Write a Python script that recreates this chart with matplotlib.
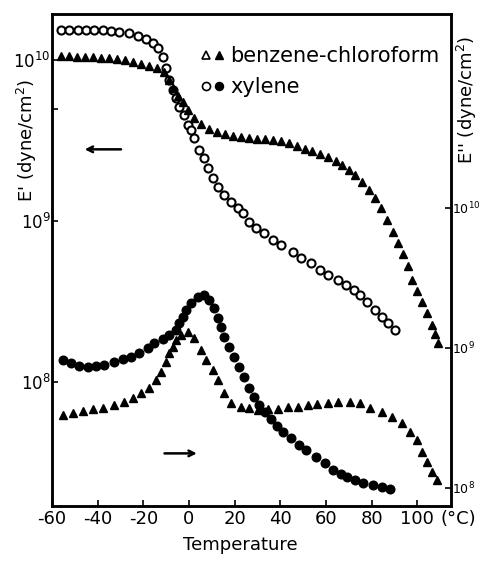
import numpy as np
import matplotlib
matplotlib.use("Agg")
import matplotlib.pyplot as plt
from matplotlib.ticker import FixedLocator, NullLocator
from matplotlib.legend_handler import HandlerTuple

plt.rcParams['font.family'] = ['DejaVu Sans']
plt.rcParams['axes.unicode_minus'] = False

# E' (storage modulus), left axis -- log10 values
xyl_T1 = [-55.9, -52.4, -48.5, -45.0, -41.5, -37.6, -34.1, -30.6, -26.2, -22.3,
          -18.8, -15.7, -13.5, -11.4, -10.0, -8.7, -7.0, -5.7, -4.4, -2.2,
          -0.4, 0.9, 2.2, 4.4, 6.6, 8.3, 10.5, 12.7, 15.3, 18.3,
          21.4, 23.6, 26.2, 29.3, 32.8, 36.7, 40.2, 45.4, 48.9, 53.3,
          57.6, 61.1, 65.1, 68.6, 72.1, 75.1, 78.2, 81.7, 84.7, 87.3, 90.4]
xyl_logE1 = [10.186, 10.186, 10.186, 10.186, 10.186, 10.186, 10.180, 10.174, 10.168, 10.149,
             10.130, 10.106, 10.075, 10.019, 9.950, 9.876, 9.814, 9.764, 9.708, 9.658,
             9.596, 9.565, 9.516, 9.441, 9.391, 9.329, 9.267, 9.211, 9.161, 9.118,
             9.081, 9.050, 8.994, 8.957, 8.925, 8.882, 8.851, 8.807, 8.770, 8.739,
             8.696, 8.665, 8.634, 8.602, 8.571, 8.540, 8.497, 8.447, 8.404, 8.366, 8.323]

bc_T1 = [-55.9, -52.4, -48.9, -45.4, -41.9, -38.4, -34.9, -31.4, -27.9, -24.5,
         -21.0, -17.5, -14.0, -10.9, -8.7, -7.0, -4.8, -2.6, -0.4, 2.2,
         5.2, 8.7, 12.2, 15.7, 19.2, 22.7, 26.2, 29.7, 33.2, 36.7,
         40.2, 43.7, 47.2, 50.7, 54.1, 57.6, 61.1, 64.2, 67.2, 69.9,
         72.9, 76.0, 79.0, 81.7, 84.3, 86.9, 89.5, 91.7, 93.9, 96.1,
         97.8, 100.0, 102.2, 104.4, 106.6, 107.9, 109.2]
bc_logE1 = [10.025, 10.025, 10.019, 10.019, 10.019, 10.012, 10.012, 10.006, 10.000, 9.988,
            9.975, 9.963, 9.950, 9.925, 9.876, 9.826, 9.776, 9.739, 9.689, 9.640,
            9.602, 9.571, 9.553, 9.540, 9.528, 9.522, 9.516, 9.509, 9.509, 9.503,
            9.497, 9.484, 9.466, 9.447, 9.435, 9.416, 9.398, 9.373, 9.348, 9.317,
            9.286, 9.242, 9.193, 9.143, 9.081, 9.006, 8.932, 8.863, 8.795, 8.720,
            8.634, 8.565, 8.497, 8.429, 8.354, 8.298, 8.242]

# E'' (loss modulus), right axis
xyl_T2 = [-55.0, -51.5, -48.0, -44.1, -40.6, -37.1, -32.8, -28.8, -25.3, -21.8,
          -17.9, -15.3, -11.4, -8.7, -5.7, -4.4, -2.6, -1.3, 0.9, 3.9,
          6.6, 8.7, 10.9, 12.7, 14.0, 15.3, 17.5, 19.7, 21.8, 24.0,
          26.2, 28.4, 30.6, 33.2, 35.8, 38.4, 41.0, 44.5, 48.0, 51.1,
          55.5, 59.8, 63.3, 66.4, 69.4, 72.9, 76.4, 80.8, 84.7, 88.2]
xyl_logE2 = [8.912, 8.891, 8.869, 8.862, 8.869, 8.876, 8.898, 8.919, 8.934, 8.962,
             8.998, 9.034, 9.062, 9.091, 9.126, 9.176, 9.219, 9.269, 9.319, 9.362,
             9.376, 9.341, 9.284, 9.212, 9.148, 9.076, 9.005, 8.934, 8.862, 8.791,
             8.712, 8.648, 8.591, 8.541, 8.491, 8.441, 8.398, 8.355, 8.305, 8.269,
             8.219, 8.176, 8.126, 8.098, 8.076, 8.055, 8.034, 8.019, 8.005, 7.991]

bc_T2 = [-55.0, -50.7, -46.3, -41.9, -37.6, -32.8, -28.4, -24.5, -21.0, -17.5,
         -14.4, -12.2, -10.0, -8.7, -7.0, -5.7, -3.5, -0.4, 2.2, 5.2,
         7.4, 10.5, 12.7, 15.3, 18.3, 22.7, 26.2, 30.1, 34.5, 38.9,
         43.2, 47.6, 52.0, 56.3, 60.7, 65.5, 70.7, 75.1, 79.5, 84.7,
         89.1, 93.4, 96.9, 100.0, 102.2, 104.4, 106.6, 108.7]
bc_logE2 = [8.519, 8.534, 8.548, 8.562, 8.569, 8.591, 8.612, 8.641, 8.676, 8.712,
            8.769, 8.826, 8.898, 8.962, 9.005, 9.055, 9.091, 9.112, 9.069, 8.984,
            8.912, 8.841, 8.769, 8.676, 8.605, 8.576, 8.569, 8.555, 8.562, 8.562,
            8.576, 8.576, 8.591, 8.598, 8.605, 8.612, 8.612, 8.605, 8.569, 8.541,
            8.505, 8.462, 8.398, 8.341, 8.255, 8.184, 8.112, 8.055]

x_ticks = [-60, -40, -20, 0, 20, 40, 60, 80, 100]

fig = plt.figure(figsize=(4.8, 5.62), dpi=100)
ax = fig.add_axes([0.1083, 0.0996, 0.8313, 0.8754])
ax2 = ax.twinx()

ms = 5.8
ax.plot(xyl_T1, 10 ** np.array(xyl_logE1), 'o', ms=ms, mfc='white', mec='black', mew=1.5)
ax.plot(bc_T1, 10 ** np.array(bc_logE1), '^', ms=ms + 0.4, color='black')
ax2.plot(xyl_T2, 10 ** np.array(xyl_logE2), 'o', ms=ms + 0.4, color='black')
ax2.plot(bc_T2, 10 ** np.array(bc_logE2), '^', ms=ms + 0.4, color='black')

ax.set_xlim(-59.4, 114.8)
ax.set_yscale('log')
ax2.set_yscale('log')
ax.set_ylim(10 ** 7.230, 10 ** 10.286)
ax2.set_ylim(10 ** 7.869, 10 ** 11.384)

ax.set_xticks(x_ticks)
ax.set_xticklabels([str(t) for t in x_ticks])
ax.set_yticks([1e8, 1e9, 1e10])
ax.yaxis.set_minor_locator(FixedLocator([5e9]))
ax2.set_yticks([1e8, 1e9, 1e10])
ax2.yaxis.set_minor_locator(NullLocator())

ax.tick_params(axis='x', direction='in', length=4, width=1.2, labelsize=13, pad=3)
ax.tick_params(axis='y', which='both', direction='in', length=4, width=1.2, labelsize=12, pad=1)
ax2.tick_params(axis='y', which='both', direction='in', length=4, width=1.2, labelsize=9, pad=0.5)

for a in (ax, ax2):
    for s in a.spines.values():
        s.set_linewidth(1.8)

ax.set_ylabel("E' (dyne/cm$^2$)", fontsize=13, ha='center', va='center')
ax.yaxis.set_label_coords(-0.0627, 0.744)
ax2.set_ylabel("E'' (dyne/cm$^2$)", fontsize=13, rotation=90, ha='center', va='center')
ax2.yaxis.set_label_coords(1.040, 0.825)
ax.set_xlabel("Temperature", fontsize=13, va='center')
ax.xaxis.set_label_coords(0.471, -0.079)
ax.text(1.018, -0.027, "(°C)", transform=ax.transAxes, fontsize=13,
        ha='center', va='center')

# arrows telling which axis each pair of curves belongs to
ax.annotate('', xy=(0.075, 0.725), xytext=(0.18, 0.725), xycoords='axes fraction',
            arrowprops=dict(arrowstyle='->', lw=1.8, color='black'))
ax.annotate('', xy=(0.37, 0.107), xytext=(0.275, 0.107), xycoords='axes fraction',
            arrowprops=dict(arrowstyle='->', lw=1.8, color='black'))

h_bo, = ax.plot([], [], '^', ms=ms, mfc='white', mec='black', mew=1.2)
h_bf, = ax.plot([], [], '^', ms=ms, color='black')
h_xo, = ax.plot([], [], 'o', ms=ms, mfc='white', mec='black', mew=1.2)
h_xf, = ax.plot([], [], 'o', ms=ms, color='black')
ax.legend([(h_bo, h_bf), (h_xo, h_xf)], ['benzene-chloroform', 'xylene'],
          handler_map={tuple: HandlerTuple(ndivide=None)},
          loc='upper left', bbox_to_anchor=(0.371, 0.935), frameon=False,
          fontsize=15, handlelength=1.2, handletextpad=0.25, labelspacing=0.55,
          borderpad=0, borderaxespad=0)

fig.savefig('out.png', dpi=100)
